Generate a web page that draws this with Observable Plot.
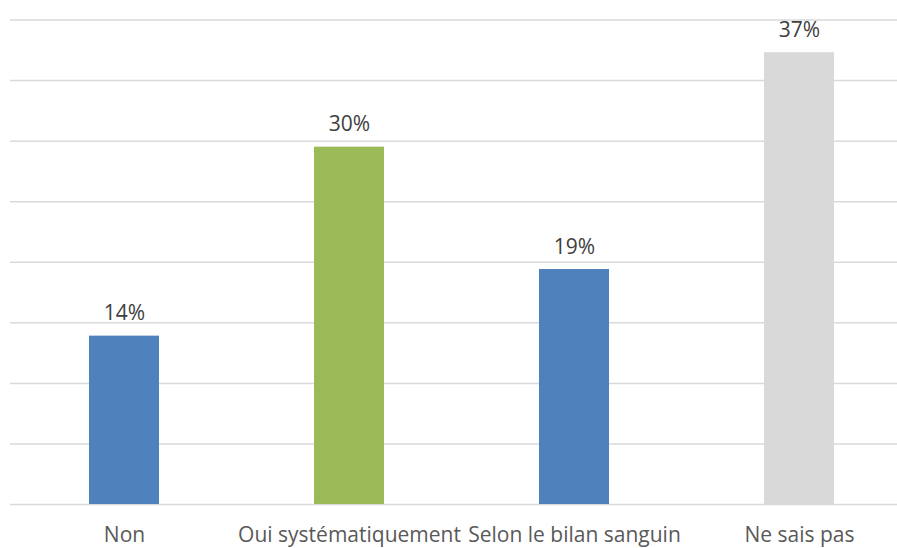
<!DOCTYPE html>
<html>
<head>
<meta charset="utf-8">
<script src="https://cdn.jsdelivr.net/npm/d3@7"></script>
<script src="https://cdn.jsdelivr.net/npm/@observablehq/plot@0.6"></script>
<style>
  html, body { margin: 0; padding: 0; background: #fff; overflow: hidden; }
  #chart svg { display: block; }
</style>
</head>
<body>
<div id="chart"></div>
<script>
const categories = ["Non", "Oui systématiquement", "Selon le bilan sanguin", "Ne sais pas"];
const values = [13.9, 29.5, 19.4, 37.3];
const valueLabels = ["14%", "30%", "19%", "37%"];
const colors = ["#4F81BD", "#9BBB59", "#4F81BD", "#D9D9D9"];
const gridTicks = [0, 5, 10, 15, 20, 25, 30, 35, 40];

const data = categories.map((c, i) => ({category: c, value: values[i], label: valueLabels[i], color: colors[i]}));

const chart = Plot.plot({
  width: 897,
  height: 548,
  marginLeft: 10,
  marginRight: 0,
  marginTop: 19,
  marginBottom: 44,
  style: {fontFamily: "'Open Sans', sans-serif", fontSize: "21px", background: "#fff"},
  x: {domain: categories, range: [10, 912], paddingInner: 0.69, paddingOuter: 0.345, label: null},
  y: {domain: [0, 40], range: [504, 19.5], axis: null},
  marks: [
    Plot.ruleY(gridTicks, {stroke: "#D9D9D9", strokeWidth: 1.5}),
    Plot.barY(data, {x: "category", y: "value", fill: "color"}),
    Plot.text(data, {x: "category", y: "value", text: "label", lineAnchor: "bottom", dy: -16, fill: "#404040", fontSize: 21}),
    Plot.axisX({tickSize: 0, tickPadding: 23, fill: "#595959", fontSize: 21, label: null})
  ]
});
document.getElementById("chart").append(chart);
</script>
</body>
</html>
